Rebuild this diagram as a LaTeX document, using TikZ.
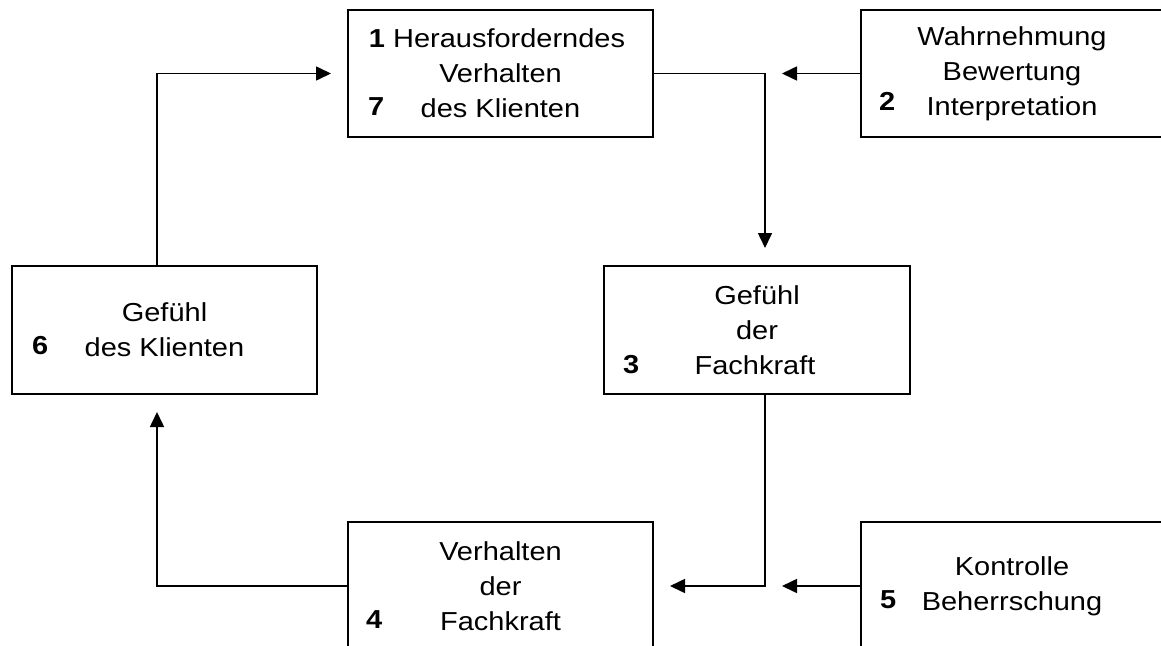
\documentclass[tikz,border=0pt]{standalone}
\usepackage{fontspec}
\setmainfont[FakeStretch=1.115]{Liberation Sans}
\usetikzlibrary{arrows.meta,calc}
\tikzset{
  box/.style={draw, line width=2pt, inner sep=0pt, align=center,
    font=\fontsize{26}{35}\selectfont},
  num/.style={inner sep=0pt, anchor=base west,
    font=\fontsize{26}{35}\selectfont\bfseries},
  arr/.style={line width=1.6pt, -{Triangle[length=15pt,width=14pt]}, shorten >=16pt}
}
\begin{document}
\begin{tikzpicture}[x=1pt,y=-1pt]
\useasboundingbox (0,0) rectangle (1161,645);
\clip (0,0) rectangle (1161,645);
\fill[white] (0,0) rectangle (1161,645);
% boxes
\node[box, minimum width=305pt, minimum height=127pt] (b1) at (500.5,73.5)
  {\textbf{1} Herausforderndes\hspace*{7pt}\\Verhalten\\des Klienten};
\node[box, minimum width=302pt, minimum height=127pt] (b2) at (1012,73.5)
  {Wahrnehmung\\Bewertung\\Interpretation};
\node[box, minimum width=306pt, minimum height=128pt] (b3) at (757,330)
  {Gefühl\\der\\Fachkraft\hspace*{4pt}};
\node[box, minimum width=305pt, minimum height=128pt] (b6) at (164.5,330)
  {Gefühl\\des Klienten};
\node[box, minimum width=305pt, minimum height=128pt] (b4) at (500.5,586)
  {\raisebox{0pt}{Verhalten}\\der\\Fachkraft};
\node[box, minimum width=302pt, minimum height=128pt] (b5) at (1012,586)
  {Kontrolle\\Beherrschung};
% numbers
\node[num] (n7) at (368,115) {7};
\node[num] (n2) at (879,110) {2};
\node[num] (n3) at (623,373) {3};
\node[num] (n6) at (32,354) {6};
\node[num] (n4) at (366,628) {4};
\node[num] (n5) at (880,608) {5};
% connector columns
\coordinate (k1) at (157,0);
\coordinate (k2) at (765,0);
% connectors
\draw[arr] (b6.north -| k1) |- (b1.west);
\draw[arr, shorten >=17pt] (b1.east) -| (k2 |- b3.north);
\draw[arr, shorten >=17pt] (b2.west) -- (k2 |- b2.west);
\draw[arr] (k2 |- b3.south) |- (b4.east);
\draw[arr, shorten >=17pt] (b5.west) -- (k2 |- b5.west);
\draw[arr, shorten >=17pt] (b4.west) -| (k1 |- b6.south);
\end{tikzpicture}
\end{document}
